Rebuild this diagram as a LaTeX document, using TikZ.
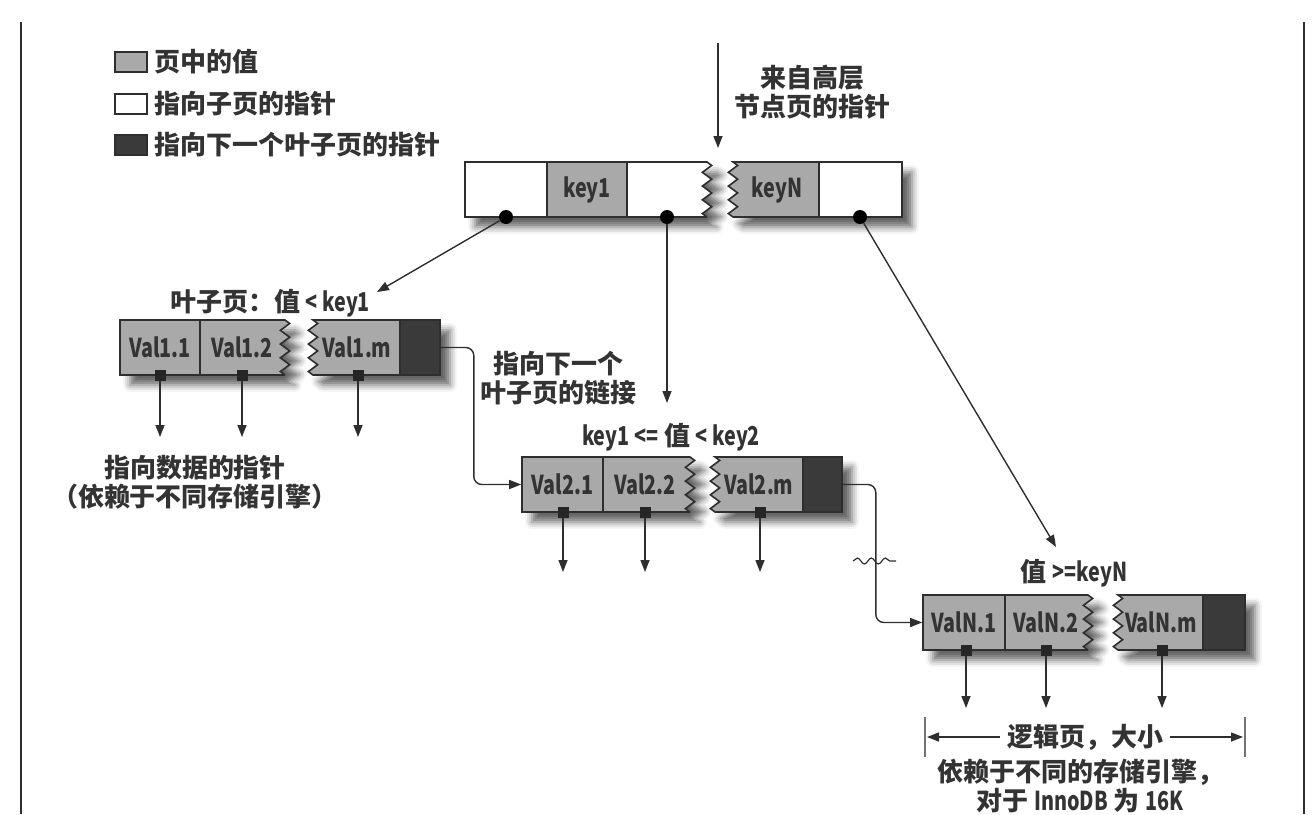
\documentclass[tikz,border=0pt]{standalone}
\usepackage{fontspec}
\setmainfont{Noto Sans CJK SC}
\usetikzlibrary{arrows.meta,calc,shadows.blur,decorations.pathmorphing}
\definecolor{valgray}{HTML}{A9A9A9}
\definecolor{nextdark}{HTML}{3A3A3A}
\definecolor{linec}{HTML}{2E2E2E}
\definecolor{textc}{HTML}{333333}
\newcommand{\cond}[1]{\scalebox{0.76}[1]{#1}}

\begin{document}
\begin{tikzpicture}[x=0.5pt, y=-0.5pt,
  every node/.style={text=textc, font=\bfseries\fontsize{13}{14.5}\selectfont},
  page/.style={draw=linec, line width=0.8pt, blur shadow={shadow xshift=5pt, shadow yshift=-5pt, shadow blur radius=3.5pt, shadow opacity=60}},
  cut/.style={decoration={zigzag, segment length=6.875pt, amplitude=2.3pt}},
  cell/.style={draw=linec, line width=0.8pt, minimum height=27.5pt, inner sep=0pt},
  valtxt/.style={font=\bfseries\fontsize{13}{14}\selectfont},
  arr/.style={draw=linec, line width=0.7pt, -{Triangle[length=6pt, width=4.5pt]}},
  link/.style={arr, rounded corners=4pt},
  bar/.style={draw=black!55, line width=1pt},
  dot/.style={circle, fill=black, inner sep=0pt, minimum size=7pt},
  ptr/.style={rectangle, fill=black!85, inner sep=0pt, minimum size=5.5pt},
  legbox/.style={draw=linec, line width=0.8pt, minimum width=16pt, minimum height=10pt, inner sep=0pt}]
  \useasboundingbox (0,0) rectangle (1312,814);

  % frame
  \draw[linec, line width=0.7pt] (21,22) -- (21,814);
  \draw[linec, line width=0.7pt] (1304,22) -- (1304,814);

  % Legend
  \node[legbox, fill=valgray] (lg1) at (131,62) {};
  \node[legbox, fill=white] (lg2) at (131,104) {};
  \node[legbox, fill=nextdark] (lg3) at (131,145) {};
  \node[anchor=west] (lt1) at (lg1.east) {页中的值};
  \node[anchor=west] (lt2) at (lg2.east) {指向子页的指针};
  \node[anchor=west] (lt3) at (lg3.east) {指向下一个叶子页的指针};

  % Upper node page
  \coordinate (from) at (718,43);
  \coordinate (toin) at (718,148);
  \draw[arr] (from) -- (toin);
  \node[align=center] (hilab) at (812,92) {来自高层\\节点页的指针};
  \draw[page, fill=white] (465,162) -- (707,162) decorate[cut]{-- (707,217)} -- (465,217) -- cycle;
  \draw[page, fill=valgray] (733,217) decorate[cut]{-- (733,162)} -- (902,162) -- (902,217) -- cycle;
  \node[cell, fill=valgray, minimum width=40pt, valtxt] (k1) at (587,189.5) {\cond{key1}};
  \node[cell, fill=white, minimum width=41.5pt] (kp) at (860.5,189.5) {};
  \node[valtxt] (kN) at (777,189.5) {\cond{keyN}};
  \node[dot] (p0) at (506,217) {};
  \node[dot] (p1) at (667,217) {};
  \node[dot] (pN) at (860,217) {};

  % Leaf 1
  \node (l1lab) at (270,303) {叶子页：值 \cond{< key1}};
  \draw[page, fill=valgray] (120,320) -- (285,320) decorate[cut]{-- (285,375)} -- (120,375) -- cycle;
  \draw[page, fill=valgray] (313,375) decorate[cut]{-- (313,320)} -- (440,320) -- (440,375) -- cycle;
  \node[cell, fill=valgray, minimum width=40pt, valtxt] (v11) at (160,347.5) {\cond{Val1.1}};
  \node[valtxt] (v12) at (242,347.5) {\cond{Val1.2}};
  \node[valtxt] (v1m) at (357,347.5) {\cond{Val1.m}};
  \node[cell, fill=nextdark, minimum width=20pt] (n1) at (420,347.5) {};
  \foreach \x [count=\i] in {160,242,358} {
    \node[ptr] (q1\i) at (\x,375) {};
    \coordinate (d1\i) at (\x,437);
    \draw[arr] (q1\i) -- (d1\i);
  }
  \node[align=center] (datalab) at (195,482) {指向数据的指针\\（依赖于不同存储引擎）};

  % Leaf 2
  \node[align=center] (linklab) at (558,378) {指向下一个\\叶子页的链接};
  \node (l2lab) at (671,437) {\cond{key1 <=} 值 \cond{< key2}};
  \draw[page, fill=valgray] (522,457) -- (690,457) decorate[cut]{-- (690,512)} -- (522,512) -- cycle;
  \draw[page, fill=valgray] (715,512) decorate[cut]{-- (715,457)} -- (842,457) -- (842,512) -- cycle;
  \node[cell, fill=valgray, minimum width=40.5pt, valtxt] (v21) at (562.5,484.5) {\cond{Val2.1}};
  \node[valtxt] (v22) at (645,484.5) {\cond{Val2.2}};
  \node[valtxt] (v2m) at (759,484.5) {\cond{Val2.m}};
  \node[cell, fill=nextdark, minimum width=19.5pt] (n2) at (822.5,484.5) {};
  \foreach \x [count=\i] in {563,645,760} {
    \node[ptr] (q2\i) at (\x,512) {};
    \coordinate (d2\i) at (\x,572);
    \draw[arr] (q2\i) -- (d2\i);
  }

  % Leaf N
  \node (lNlab) at (1074,573) {值 \cond{>=keyN}};
  \draw[page, fill=valgray] (923,595) -- (1088,595) decorate[cut]{-- (1088,650)} -- (923,650) -- cycle;
  \draw[page, fill=valgray] (1118,650) decorate[cut]{-- (1118,595)} -- (1245,595) -- (1245,650) -- cycle;
  \node[cell, fill=valgray, minimum width=41pt, valtxt] (vN1) at (964,622.5) {\cond{ValN.1}};
  \node[valtxt] (vN2) at (1046,622.5) {\cond{ValN.2}};
  \node[valtxt] (vNm) at (1161,622.5) {\cond{ValN.m}};
  \node[cell, fill=nextdark, minimum width=21pt] (nN) at (1224,622.5) {};
  \foreach \x [count=\i] in {966,1046,1162} {
    \node[ptr] (qN\i) at (\x,650) {};
    \coordinate (dN\i) at (\x,708);
    \draw[arr] (qN\i) -- (dN\i);
  }

  % pointers from the upper page
  \coordinate (l1in) at (377,292);
  \coordinate (l2in) at (667,403);
  \coordinate (lNin) at (1056,547);
  \draw[arr] (p0) -- (l1in);
  \draw[arr] (p1) -- (l2in);
  \draw[arr] (pN) -- (lNin);

  % links between leaves
  \draw[link] (n1.east) -- ++(33,0) |- (v21.west);
  \draw[link] (n2.east) -- ++(33,0) |- (vN1.west);
  \draw[linec, line width=0.6pt, decorate, decoration={snake, segment length=7pt, amplitude=1.5pt}] (853,561) -- (896,561);

  % page size
  \node (dimlab) at (1085,737) {逻辑页，大小};
  \coordinate (dimL) at (927,737);
  \coordinate (dimR) at (1243,737);
  \draw[arr] (dimlab.west) -- (dimL);
  \draw[arr] (dimlab.east) -- (dimR);
  \draw[bar] (925,717) -- (925,757);
  \draw[bar] (1245,717) -- (1245,757);
  \node[align=center] (sizelab) at (1080,786) {依赖于不同的存储引擎，\\对于 \cond{InnoDB} 为 \cond{16K}};
\end{tikzpicture}
\end{document}
